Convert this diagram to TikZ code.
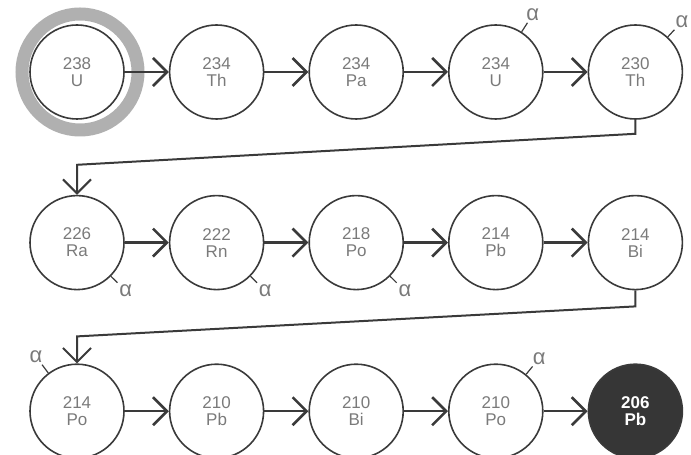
\documentclass[tikz,border=0pt]{standalone}
\usepackage{fontspec}
\setmainfont{Liberation Sans}
\usetikzlibrary{arrows.meta,positioning}
\definecolor{inkline}{HTML}{3A3A3A}
\definecolor{inktext}{HTML}{7A7A7A}
\definecolor{ringgray}{HTML}{B0B0B0}
\definecolor{leadfill}{HTML}{363636}
\tikzset{
    nuclide/.style={
        draw=inkline,
        circle,
        line width=1.6pt,
        minimum size=94pt,
        inner sep=0pt,
        align=center,
        text=inktext,
        font=\fontsize{17}{17}\selectfont
    },
    stable/.style={
        nuclide,
        fill=leadfill,
        text=white,
        font=\fontsize{17}{17}\selectfont\bfseries
    },
    flow/.style={-{Straight Barb[length=14pt,width=28pt]}, line width=2.6pt, draw=inkline},
    link/.style={flow, line width=2pt},
    ring/.style={draw=ringgray, line width=13pt},
    alphapin/.style={pin=#1:α}
}

\begin{document}
\begin{tikzpicture}[node distance=44pt,
        pin distance=9pt,
        every pin edge/.style={draw=inkline, line width=1.2pt},
        every pin/.style={text=inktext, inner sep=2pt, font=\fontsize{22}{22}\selectfont}]
        \useasboundingbox (0,0) rectangle (691pt,455pt);
        % top row
        \node[nuclide] (u238) at (77pt,383pt) {238\\U};
        \node[nuclide, right=of u238] (th234) {234\\Th};
        \node[nuclide, right=of th234] (pa234) {234\\Pa};
        \node[nuclide, alphapin=60, right=of pa234] (u234) {234\\U};
        \node[nuclide, alphapin=48, right=of u234] (th230) {230\\Th};
        % middle row
        \node[nuclide, alphapin=-45, below=75pt of u238] (ra226) {226\\Ra};
        \node[nuclide, alphapin=-45, right=of ra226] (rn222) {222\\Rn};
        \node[nuclide, alphapin=-45, right=of rn222] (po218) {218\\Po};
        \node[nuclide, right=of po218] (pb214) {214\\Pb};
        \node[nuclide, right=of pb214] (bi214) {214\\Bi};
        % bottom row
        \node[nuclide, alphapin=125, below=73pt of ra226] (po214) {214\\Po};
        \node[nuclide, right=of po214] (pb210) {210\\Pb};
        \node[nuclide, right=of pb210] (bi210) {210\\Bi};
        \node[nuclide, alphapin=52, right=of bi210] (po210) {210\\Po};
        \node[stable, right=of po210] (pb206) {206\\Pb};

        \draw[ring] ([xshift=3pt]u238.center) circle (58pt);

        \draw[flow] (u238) -- (th234);
        \draw[flow] (th234) -- (pa234);
        \draw[flow] (pa234) -- (u234);
        \draw[flow] (u234) -- (th230);
        \draw[link] (th230.south) -- ++(0,-14pt) -- ([yshift=30pt]ra226.north) -- (ra226.north);
        \draw[flow] (ra226) -- (rn222);
        \draw[flow] (rn222) -- (po218);
        \draw[flow] (po218) -- (pb214);
        \draw[flow] (pb214) -- (bi214);
        \draw[link] (bi214.south) -- ++(0,-16pt) -- ([yshift=27pt]po214.north) -- (po214.north);
        \draw[flow] (po214) -- (pb210);
        \draw[flow] (pb210) -- (bi210);
        \draw[flow] (bi210) -- (po210);
        \draw[flow] (po210) -- (pb206);
    \end{tikzpicture}
\end{document}
